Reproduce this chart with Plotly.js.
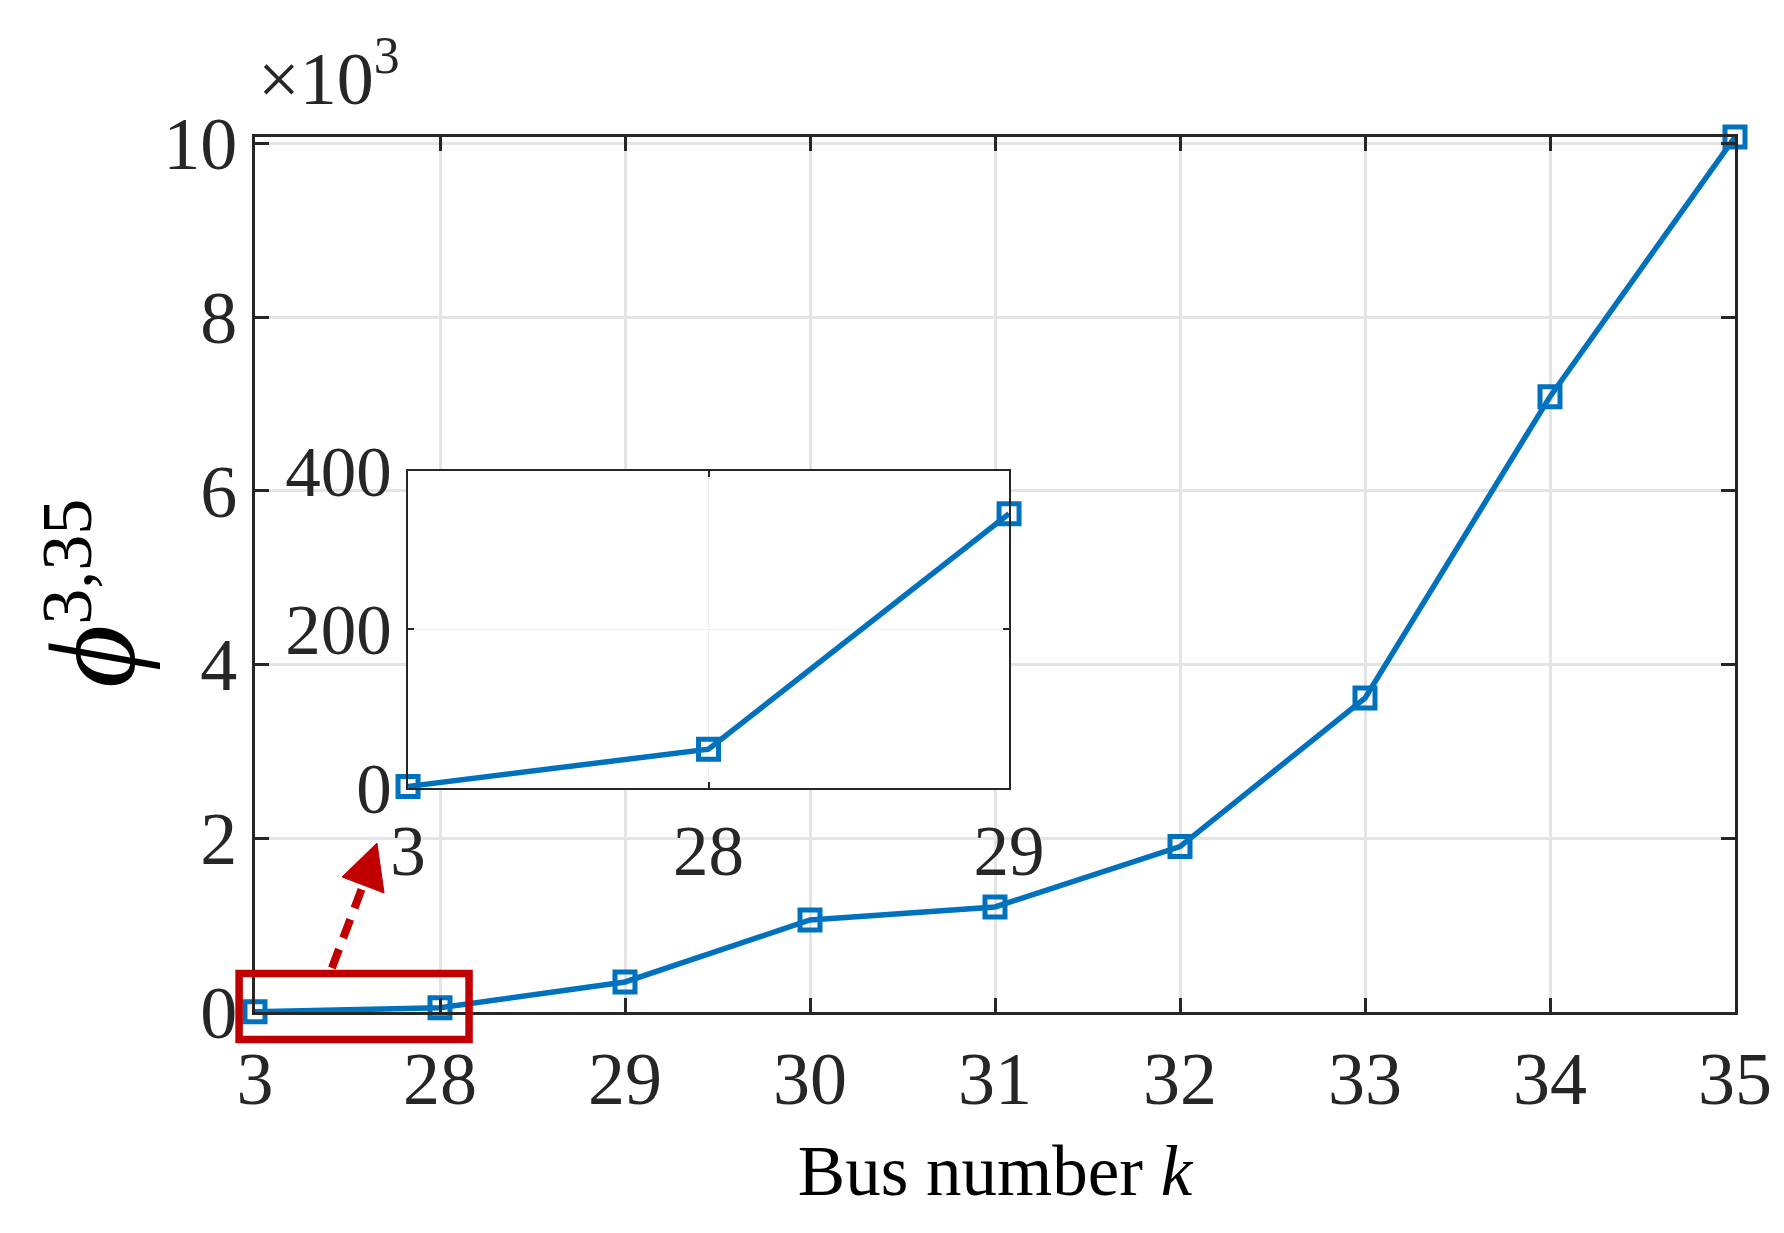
<!DOCTYPE html>
<html><head><meta charset="utf-8">
<script src="https://cdn.plot.ly/plotly-3.0.1.min.js"></script>
<style>html,body{margin:0;padding:0;background:#fff}</style>
</head><body><div id="chart" style="width:1784px;height:1233px"></div>
<script>
// ---- data ----
const busLabels = ['3', '28', '29', '30', '31', '32', '33', '34', '35'];
const phiValues = [2, 49, 346, 1059, 1209, 1904, 3613, 7083, 10072];
const yTickVals = [0, 2000, 4000, 6000, 8000, 10000];
const yTickText = ['0', '2', '4', '6', '8', '10'];
const insetLabels = ['3', '28', '29'];
const insetValues = [2, 49, 346];
const insetTickVals = [0, 200, 400];
const insetTickText = ['0', '200', '400'];

// ---- style ----
const FONT = 'Liberation Serif, Times New Roman, serif';
const AX = '#262626';
const BLUE = '#0072BD';
const RED = '#C00000';
const yMax = Math.max(...phiValues);

// highlight box around the first two buses (in main-axis units -> paper)
const nCat = busLabels.length - 1;
const toPx = i => i / nCat;
const toPy = v => v / yMax;
const box = {x0: toPx(0 - 0.086), x1: toPx(1 + 0.157), y0: toPy(-316), y1: toPy(443)};

const traces = [
  {x: busLabels, y: phiValues, type: 'scatter', mode: 'lines+markers', xaxis: 'x', yaxis: 'y',
   line: {color: BLUE, width: 5.5}, marker: {symbol: 'square-open', size: 20, color: BLUE, line: {width: 5, color: BLUE}},
   cliponaxis: false, showlegend: false},
  {x: insetLabels, y: insetValues, type: 'scatter', mode: 'lines+markers', xaxis: 'x2', yaxis: 'y2',
   line: {color: BLUE, width: 5.5}, marker: {symbol: 'square-open', size: 20, color: BLUE, line: {width: 5, color: BLUE}},
   cliponaxis: false, showlegend: false}
];

const layout = {
  width: 1784, height: 1233,
  margin: {l: 255, r: 49, t: 137, b: 221},
  paper_bgcolor: '#fff', plot_bgcolor: '#fff',
  font: {family: FONT, color: AX},
  xaxis: {
    type: 'category', domain: [0, 1], range: [0, nCat], anchor: 'y',
    showline: true, mirror: 'ticks', linecolor: AX, linewidth: 3,
    ticks: 'inside', ticklen: 14, tickwidth: 3, tickcolor: AX,
    showgrid: true, gridcolor: '#e4e4e4', gridwidth: 3, zeroline: false,
    tickfont: {family: FONT, size: 74, color: AX},
    title: {text: 'Bus number <i>k</i>', font: {family: FONT, size: 71, color: '#000'}, standoff: 27}
  },
  yaxis: {
    domain: [0, 1], range: [0, yMax], anchor: 'x',
    tickvals: yTickVals, ticktext: yTickText,
    showline: true, mirror: 'ticks', linecolor: AX, linewidth: 3,
    ticks: 'inside', ticklen: 14, tickwidth: 3, tickcolor: AX,
    showgrid: true, gridcolor: '#e4e4e4', gridwidth: 3, zeroline: false,
    tickfont: {family: FONT, size: 74, color: AX},
    title: {text: '<span style="font-size:122px"><i>ϕ</i></span><sup>3,35</sup><span style="font-size:150px">\u00a0</span>',
            font: {family: FONT, size: 103, color: '#000'}, standoff: 8}
  },
  xaxis2: {
    type: 'category', domain: [0.1034, 0.5095], range: [0, 2], anchor: 'y2',
    showline: true, mirror: 'ticks', linecolor: AX, linewidth: 2,
    ticks: 'inside', ticklen: 6, tickwidth: 2, tickcolor: AX,
    showgrid: true, gridcolor: '#f0f0f0', gridwidth: 1.5, zeroline: false,
    tickfont: {family: FONT, size: 71, color: AX}
  },
  yaxis2: {
    domain: [0.256, 0.6183], range: [0, 400], anchor: 'x2',
    tickvals: insetTickVals, ticktext: insetTickText,
    showline: true, mirror: 'ticks', linecolor: AX, linewidth: 2,
    ticks: 'inside', ticklen: 6, tickwidth: 2, tickcolor: AX,
    showgrid: true, gridcolor: '#f0f0f0', gridwidth: 1.5, zeroline: false,
    tickfont: {family: FONT, size: 71, color: AX}
  },
  shapes: [
    {type: 'rect', xref: 'paper', yref: 'paper', x0: box.x0, x1: box.x1, y0: box.y0, y1: box.y1,
     line: {color: RED, width: 7.5}, fillcolor: 'rgba(0,0,0,0)', layer: 'above'},
    {type: 'line', xref: 'paper', yref: 'paper', x0: 0.052, y0: 0.0503, x1: 0.0723, y1: 0.1417,
     line: {color: RED, width: 8, dash: '20px,12px'}, layer: 'above'},
    {type: 'path', xref: 'paper', yref: 'paper',
     path: 'M 0.0824 0.1931 L 0.0588 0.1543 L 0.0872 0.136 Z',
     fillcolor: RED, line: {color: RED, width: 1}, layer: 'above'}
  ],
  annotations: [
    {xref: 'paper', yref: 'paper', x: 0.0005, y: 1.017, xanchor: 'left', yanchor: 'bottom',
     text: '×10<sup>3</sup>', showarrow: false, font: {family: FONT, size: 74, color: AX}}
  ]
};

Plotly.newPlot('chart', traces, layout, {staticPlot: true, displayModeBar: false});
</script>
</body></html>
